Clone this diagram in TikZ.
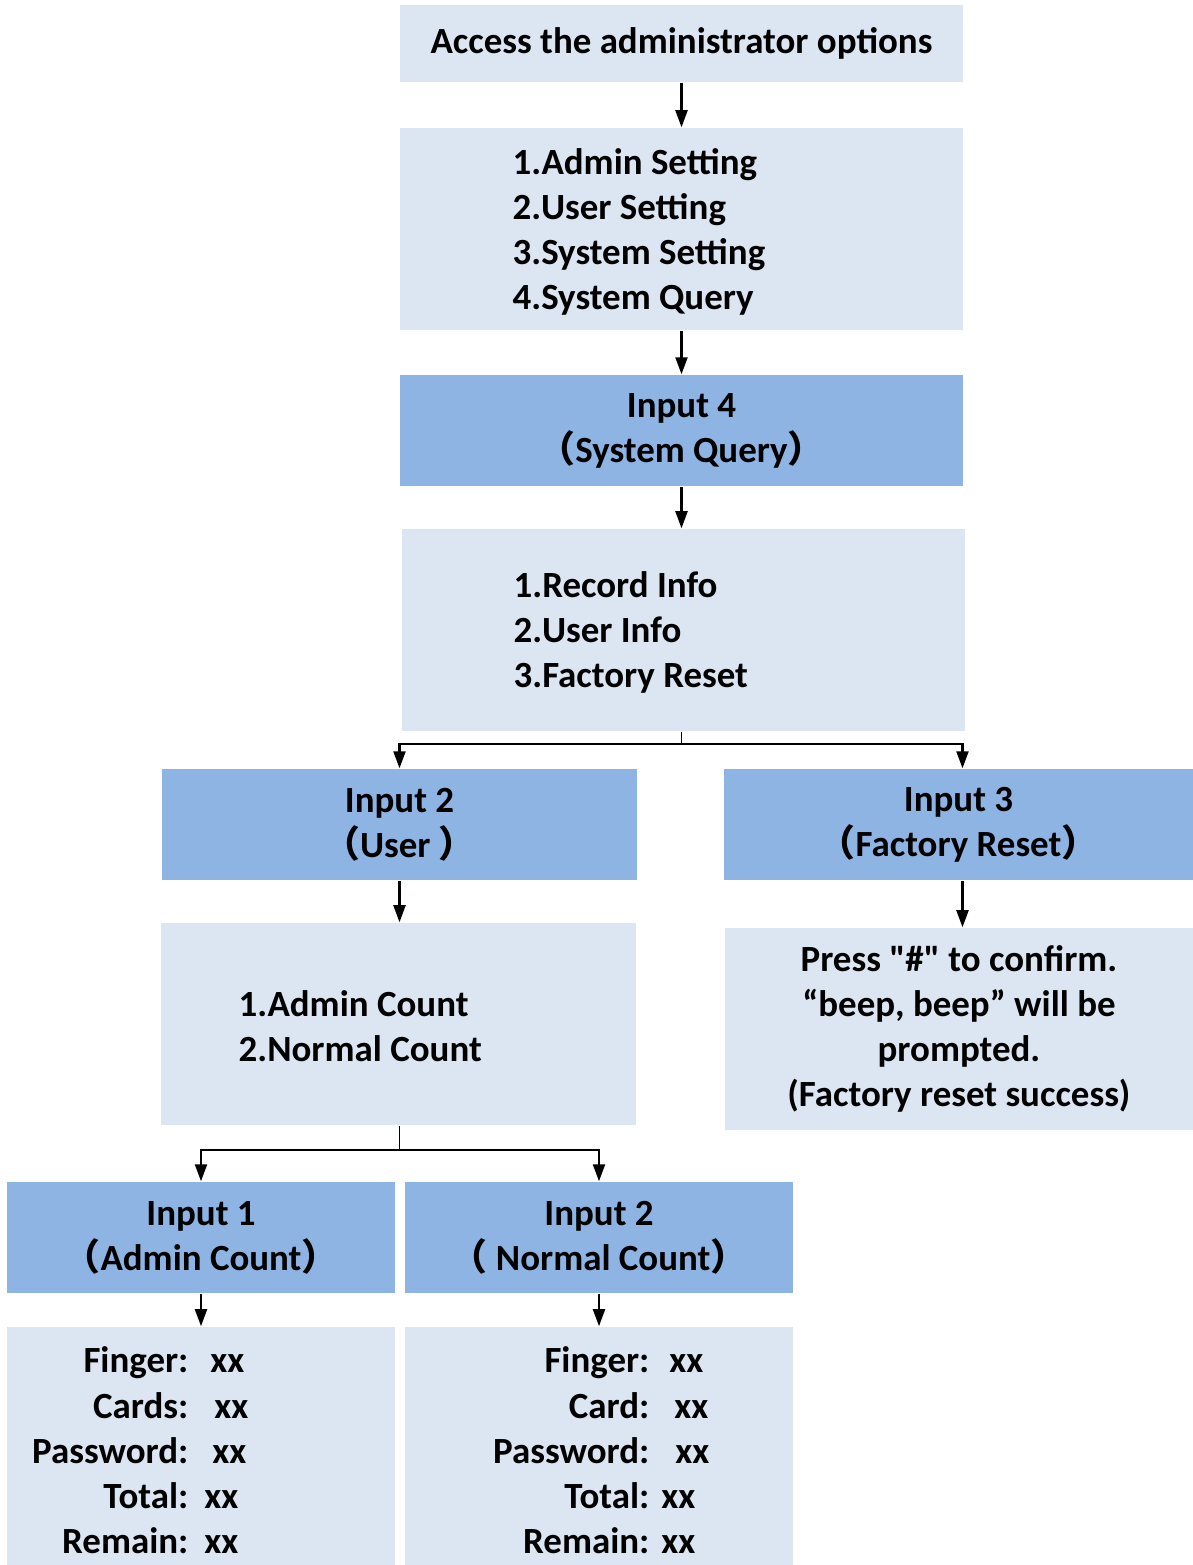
\documentclass[tikz,border=0pt]{standalone}
\usepackage{fontspec}
\setmainfont{Carlito}
\newfontfamily\plainq{Carlito}
\newfontfamily\cjk{Noto Sans CJK SC}
\usetikzlibrary{arrows.meta}
\definecolor{boxlight}{HTML}{DCE6F2}
\definecolor{boxdark}{HTML}{8EB4E3}
\renewcommand{\arraystretch}{1.0}
\begin{document}
\begin{tikzpicture}[x=0.01cm, y=-0.01cm, font=\fontsize{10.5}{12.8}\selectfont\bfseries,
	light/.style={fill=boxlight, inner sep=0},
	dark/.style={fill=boxdark, inner sep=0, align=center, minimum height=1.11cm},
	txt/.style={inner sep=0, align=left},
	arr/.style={-{Triangle[length=1.7mm, width=1.2mm]}, line width=0.6pt}]
	\useasboundingbox (0,0) rectangle (1193,1565);
	\node[light, minimum width=5.63cm, minimum height=0.77cm] (access) at (681.5,43.5) {Access the administrator options};
	\node[light, minimum width=5.63cm, minimum height=2.02cm] (menu) at (681.5,229) {};
	\node[txt, anchor=west] (menuT) at (512,232) {1.Admin Setting\\2.User Setting\\3.System Setting\\4.System Query};
	\node[dark, minimum width=5.63cm] (query) at (681.5,430.5) {Input 4\\{\cjk （}System Query{\cjk ）}};
	\node[light, minimum width=5.63cm, minimum height=2.02cm] (info) at (683.5,630) {};
	\node[txt, anchor=west] (infoT) at (513,632) {1.Record Info\\2.User Info\\3.Factory Reset};
	\node[dark, minimum width=4.75cm] (user) at (399.5,824.5) {Input 2\\{\cjk （}User {\cjk ）}};
	\node[dark, minimum width=4.69cm] (reset) at (958.5,824.5) {Input 3\\{\cjk （}Factory Reset{\cjk ）}};
	\node[light, minimum width=4.75cm, minimum height=2.02cm] (count) at (398.5,1024) {};
	\node[txt, anchor=west] (countT) at (238,1026) {1.Admin Count\\2.Normal Count};
	\node[light, align=center, minimum width=4.68cm, minimum height=2.02cm] (press) at (959,1029) {Press {\plainq "}\#{\plainq "} to confirm.\\“beep, beep” will be\\prompted.\\(Factory reset success)};
	\node[dark, minimum width=3.88cm] (admin) at (201,1237.5) {Input 1\\{\cjk （}Admin Count{\cjk ）}};
	\node[dark, minimum width=3.88cm] (normal) at (599,1237.5) {Input 2\\{\cjk （} Normal Count{\cjk ）}};
	\node[light, minimum width=3.88cm, minimum height=2.5cm] (adminD) at (201,1452) {};
	\node[txt, anchor=east] (adminT) at (249,1454) {\begin{tabular}{@{}r@{}l@{}}
		Finger: & \hspace{0.22cm}xx\\
		Cards: & \hspace{0.26cm}xx\\
		Password: & \hspace{0.24cm}xx\\
		Total: & \hspace{0.16cm}xx\\
		Remain: & \hspace{0.16cm}xx
	\end{tabular}};
	\node[light, minimum width=3.88cm, minimum height=2.5cm] (normalD) at (599,1452) {};
	\node[txt, anchor=east] (normalT) at (710,1454) {\begin{tabular}{@{}r@{}l@{}}
		Finger: & \hspace{0.20cm}xx\\
		Card: & \hspace{0.25cm}xx\\
		Password: & \hspace{0.26cm}xx\\
		Total: & \hspace{0.12cm}xx\\
		Remain: & \hspace{0.12cm}xx
	\end{tabular}};
	% connectors
	\draw[arr] (access) -- (menu);
	\draw[arr] (menu) -- (query);
	\draw[arr] (query.south) -- (query.south |- info.north);
	\draw (query.south |- info.south) -- ++(0,12) coordinate (split1);
	\draw[arr] (split1) -| (user.north);
	\draw[arr] (split1) -| ([xshift=0.04cm]reset.north);
	\draw[arr] (user.south) -- (user.south |- count.north);
	\draw[arr] ([xshift=0.04cm]reset.south) -- ([xshift=0.04cm]reset.south |- press.north);
	\draw (user.south |- count.south) -- ++(0,24) coordinate (split2);
	\draw[arr] (split2) -| (admin.north);
	\draw[arr] (split2) -| (normal.north);
	\draw[arr] (admin) -- (adminD);
	\draw[arr] (normal) -- (normalD);
\end{tikzpicture}
\end{document}
